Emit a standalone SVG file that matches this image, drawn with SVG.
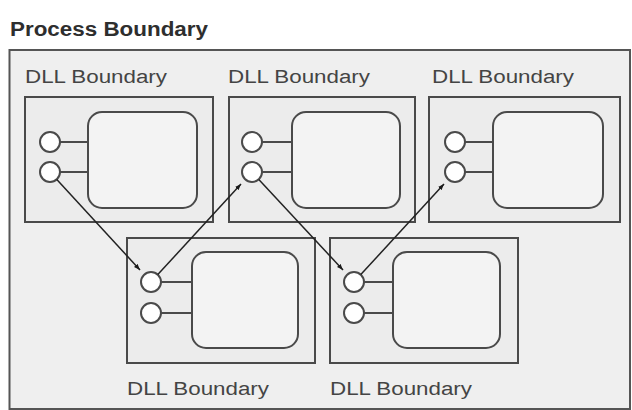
<svg xmlns="http://www.w3.org/2000/svg" width="632" height="410" viewBox="0 0 632 410">
<style>
.title{font-family:"Liberation Sans",Arial,sans-serif;font-weight:bold;font-size:20px;fill:#2e2e2e}
.lbl{font-family:"Liberation Sans",Arial,sans-serif;font-size:18px;fill:#444}
.dll{fill:#ececec;stroke:#4a4a4a;stroke-width:2}
.comp{fill:#f3f3f3;stroke:#4a4a4a;stroke-width:2}
.port{fill:#ffffff;stroke:#4a4a4a;stroke-width:2}
.stub{stroke:#4a4a4a;stroke-width:2}
.conn{stroke:#222;stroke-width:1.5;fill:none;marker-end:url(#ah)}
</style>
<defs>
<marker id="ah" viewBox="0 0 8 6" refX="8" refY="3" markerWidth="4.2" markerHeight="3.4" orient="auto" markerUnits="strokeWidth">
<path d="M0,0 L8,3 L0,6 Z" fill="#1a1a1a"/>
</marker>
</defs>
<rect width="632" height="410" fill="#ffffff"/>
<g id="process">
<text class="title" x="10" y="36" textLength="198" lengthAdjust="spacingAndGlyphs">Process Boundary</text>
<rect x="9.5" y="50" width="620.5" height="359" fill="#efefef" stroke="#555" stroke-width="2"/>
</g>
<g id="dll1">
<text class="lbl" x="25" y="83" textLength="142" lengthAdjust="spacingAndGlyphs">DLL Boundary</text>
<rect class="dll" x="25" y="97" width="188" height="125"/>
<rect class="comp" x="88" y="112" width="109" height="96" rx="14"/>
<line class="stub" x1="60" y1="142" x2="88" y2="142"/>
<line class="stub" x1="60" y1="172" x2="88" y2="172"/>
<circle class="port" cx="50" cy="142" r="10"/>
<circle class="port" cx="50" cy="172" r="10"/>
</g>
<g id="dll2">
<text class="lbl" x="228" y="83" textLength="142" lengthAdjust="spacingAndGlyphs">DLL Boundary</text>
<rect class="dll" x="229" y="97" width="186" height="125"/>
<rect class="comp" x="292" y="112" width="108" height="96" rx="14"/>
<line class="stub" x1="262" y1="142" x2="292" y2="142"/>
<line class="stub" x1="262" y1="172" x2="292" y2="172"/>
<circle class="port" cx="252" cy="142" r="10"/>
<circle class="port" cx="252" cy="172" r="10"/>
</g>
<g id="dll3">
<text class="lbl" x="432" y="83" textLength="142" lengthAdjust="spacingAndGlyphs">DLL Boundary</text>
<rect class="dll" x="429" y="97" width="191" height="125"/>
<rect class="comp" x="493" y="112" width="110" height="96" rx="14"/>
<line class="stub" x1="465" y1="142" x2="493" y2="142"/>
<line class="stub" x1="465" y1="172" x2="493" y2="172"/>
<circle class="port" cx="455" cy="142" r="10"/>
<circle class="port" cx="455" cy="172" r="10"/>
</g>
<g id="dll4">
<rect class="dll" x="127" y="238" width="188" height="125"/>
<rect class="comp" x="192" y="252" width="106" height="96" rx="14"/>
<line class="stub" x1="161" y1="282" x2="192" y2="282"/>
<line class="stub" x1="161" y1="313" x2="192" y2="313"/>
<circle class="port" cx="151" cy="282" r="10"/>
<circle class="port" cx="151" cy="313" r="10"/>
<text class="lbl" x="127" y="395" textLength="142" lengthAdjust="spacingAndGlyphs">DLL Boundary</text>
</g>
<g id="dll5">
<rect class="dll" x="330" y="238" width="188" height="125"/>
<rect class="comp" x="393" y="252" width="107" height="96" rx="14"/>
<line class="stub" x1="364" y1="282" x2="393" y2="282"/>
<line class="stub" x1="364" y1="313" x2="393" y2="313"/>
<circle class="port" cx="354" cy="282" r="10"/>
<circle class="port" cx="354" cy="313" r="10"/>
<text class="lbl" x="330" y="395" textLength="142" lengthAdjust="spacingAndGlyphs">DLL Boundary</text>
</g>
<g id="connectors">
<line class="conn" x1="56.8" y1="179.4" x2="140" y2="270"/>
<line class="conn" x1="157.8" y1="274.6" x2="241" y2="184"/>
<line class="conn" x1="258.8" y1="179.4" x2="343" y2="270"/>
<line class="conn" x1="360.8" y1="274.6" x2="444" y2="184"/>
</g>
</svg>
